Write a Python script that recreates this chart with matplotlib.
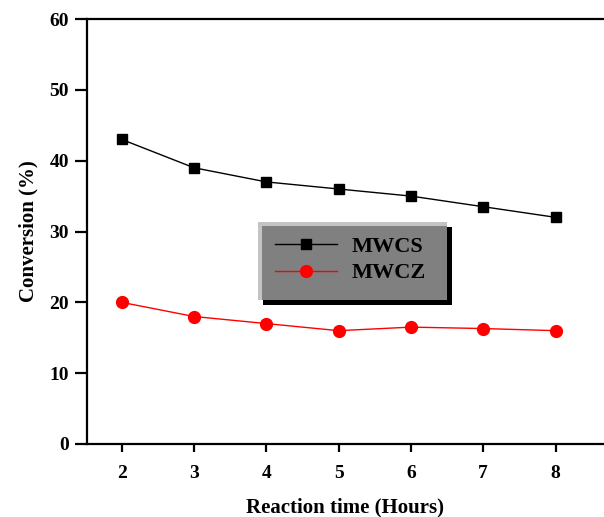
import matplotlib
matplotlib.use("Agg")
import matplotlib.pyplot as plt
from matplotlib.patches import Rectangle

hours = [2, 3, 4, 5, 6, 7, 8]
mwcs = [43, 39, 37, 36, 35, 33.5, 32]
mwcz = [20, 18, 17, 16, 16.5, 16.3, 16]
yticks = [0, 10, 20, 30, 40, 50, 60]

plt.rcParams['font.family'] = ['Liberation Serif', 'DejaVu Serif']
plt.rcParams['font.weight'] = 'bold'

W, H = 604, 517
fig = plt.figure(figsize=(W/100, H/100), dpi=100)
ax = fig.add_axes([87/W, 73/H, 1 - 87/W, (444-19)/H])

ax.plot(hours, mwcs, color='black', lw=1.0, marker='s', ms=7.5, label='MWCS')
ax.plot(hours, mwcz, color='red', lw=1.0, marker='o', ms=8.5, label='MWCZ')

ax.set_xlim(1.52, 8.67)
ax.set_ylim(0, 60)
ax.set_xticks(hours)
ax.set_yticks(yticks)
for s in ['left', 'bottom', 'top']:
    ax.spines[s].set_linewidth(1.6)
ax.spines['right'].set_visible(False)
ax.tick_params(axis='y', direction='out', length=9, width=1.6, labelsize=14, pad=4)
ax.tick_params(axis='x', direction='out', length=6, width=1.6, labelsize=14, pad=9)
for lab in ax.get_xticklabels() + ax.get_yticklabels():
    lab.set_fontweight('bold')

ax.set_xlabel('Reaction time (Hours)', fontsize=15, fontweight='bold', labelpad=11)
ax.set_ylabel('Conversion (%)', fontsize=15, fontweight='bold', labelpad=8)

def fx(px):
    return px / W

def fy(py):
    return 1 - py / H

# legend box: shadow, bevel, gray face
fig.add_artist(Rectangle((fx(263), fy(305)), fx(452) - fx(263), fy(227) - fy(305),
                         transform=fig.transFigure, facecolor='black', edgecolor='none', zorder=4))
fig.add_artist(Rectangle((fx(258), fy(300)), fx(447) - fx(258), fy(222) - fy(300),
                         transform=fig.transFigure, facecolor='#c4c4c4', edgecolor='none', zorder=5))
fig.add_artist(Rectangle((fx(262), fy(300)), fx(447) - fx(262), fy(226) - fy(300),
                         transform=fig.transFigure, facecolor='#808080', edgecolor='none', zorder=6))
leg = ax.legend(loc='center left', bbox_to_anchor=(fx(275), fy(260)), bbox_transform=fig.transFigure,
                frameon=False, handlelength=2.8, handletextpad=0.65, borderpad=0, borderaxespad=0,
                labelspacing=0.25, prop={'weight': 'bold', 'size': 16})
leg.set_zorder(7)
fig.add_artist(leg)

fig.savefig('out.png', dpi=100)
